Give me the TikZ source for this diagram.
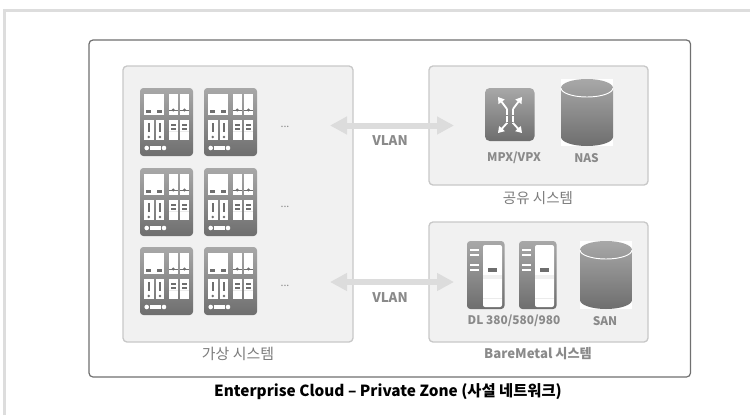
\documentclass[tikz,border=0pt]{standalone}
\usepackage{fontspec}
\setmainfont{Noto Sans CJK KR}
\usetikzlibrary{arrows.meta}
\definecolor{panelfill}{HTML}{F1F1F1}
\definecolor{panelline}{HTML}{C8C8C8}
\definecolor{icontop}{HTML}{A8A8A8}
\definecolor{iconbot}{HTML}{6E6E6E}
\definecolor{labelgray}{HTML}{8A8A8A}
\definecolor{arrowgray}{HTML}{DCDCDC}
\definecolor{framegray}{HTML}{DDDDDD}
\definecolor{zonegray}{HTML}{707070}
\tikzset{
  x=0.75pt,y=-0.75pt,
  panel/.style={draw=panelline,line width=1pt,fill=panelfill,rounded corners=3pt},
  lab/.style={text=labelgray,font=\bfseries\fontsize{8.9pt}{10pt}\selectfont,inner sep=0pt,anchor=center},
  lablight/.style={text=labelgray!90!black,font=\fontsize{10.9pt}{12pt}\selectfont,inner sep=0pt,anchor=center},
  wh/.style={fill=white,draw=none},
  dk/.style={fill=iconbot,draw=none},
  vlanarrow/.style={draw=arrowgray,line width=4.5pt,{Triangle[length=12.75pt,width=12.75pt,fill=arrowgray]}-{Triangle[length=12.75pt,width=12.75pt,fill=arrowgray]}},
  body/.style={top color=icontop,bottom color=iconbot,draw=none,rounded corners=2.5pt},
  xarm/.style={white,line width=1.4pt,-{Triangle[length=4.5pt,width=5.5pt,fill=white]}},
}
\newcommand{\vmicon}[2]{%
\begin{scope}[shift={(#1,#2)}]
  \path[body] (0,0) rectangle (53,68);
  \fill[wh] (4,5.5) rectangle (24,27);
  \fill[dk] (6,22) rectangle (11,25); \fill[dk] (17,22) rectangle (22,25);
  \fill[wh] (29,5.5) rectangle (37.5,27); \fill[wh] (40,5.5) rectangle (49,27);
  \draw[iconbot,line width=.4pt] (29,22) -- (37.5,22) (40,22) -- (49,22);
  \fill[dk] (33.2,22) circle (1.6); \fill[dk] (44.5,22) circle (1.6);
  \fill[wh] (4,32) rectangle (13.5,52); \fill[wh] (16,32) rectangle (24,52);
  \fill[dk] (7.9,35) rectangle (9.6,44); \fill[dk] (19.2,35) rectangle (20.9,44);
  \fill[dk] (8.7,49) circle (1.4); \fill[dk] (20,49) circle (1.4);
  \fill[wh] (29,32) rectangle (37.5,52); \fill[wh] (40,32) rectangle (49,52);
  \fill[dk] (31,35.5) rectangle (35.5,37.5); \fill[dk] (31,39.5) rectangle (35.5,41.5);
  \fill[dk] (42,35.5) rectangle (47,37.5); \fill[dk] (42,39.5) rectangle (47,41.5);
  \fill[black!8] (29,43) rectangle (37.5,44); \fill[black!8] (40,43) rectangle (49,44);
  \fill[wh] (6.7,60) circle (2.3); \fill[wh] (24,60) circle (2.3);
  \fill[wh] (10,58) rectangle (21,62);
\end{scope}}
\newcommand{\cyl}[4]{%
\begin{scope}[shift={(#1,#2)}]
  \fill[white] (0,0) rectangle (#3,#4);
  \path[top color=icontop,bottom color=iconbot] (0,9) arc[x radius=#3/2,y radius=9,start angle=180,end angle=360] -- (#3,#4-9) arc[x radius=#3/2,y radius=9,start angle=0,end angle=180] -- cycle;
  \draw[white,line width=.7pt] (0,9) arc[x radius=#3/2,y radius=9,start angle=180,end angle=0];
\end{scope}}
\newcommand{\dlicon}[2]{%
\begin{scope}[shift={(#1,#2)}]
  \path[body] (0,0) rectangle (37.5,68);
  \fill[wh,rounded corners=1.5pt] (16,4) rectangle (35,66);
  \fill[wh] (3,8) rectangle (12,10.2); \fill[wh] (3,13) rectangle (12,15.2);
  \fill[wh] (3,22.5) rectangle (12,24.8); \fill[wh] (3,28) rectangle (12,30.2);
  \fill[dk] (21,27) rectangle (30,31);
  \fill[black!6] (16,34) rectangle (35,38);
  \fill[black!8] (16,57) rectangle (35,57.6);
\end{scope}}
\begin{document}
\begin{tikzpicture}
\useasboundingbox (0,0) rectangle (750,415);
\fill[white] (0,0) rectangle (750,415);
\draw[draw=framegray,line width=2pt] (4.5,415) -- (4.5,10.5) -- (750,10.5);
\draw[zonegray,line width=.9pt,rounded corners=3pt] (89,40) rectangle (690.5,377);
\draw[panel] (123,66) rectangle (353,342);
\draw[panel] (429,66) rectangle (648,185);
\draw[panel] (429,222) rectangle (648,342);
\foreach \yy in {88,168,247}{\vmicon{140}{\yy}\vmicon{204}{\yy}
  \node[text=labelgray,font=\fontsize{8pt}{9pt}\selectfont] (dots\yy) at (285,\yy+39) {...};}
\coordinate (a1) at (330,125.5); \coordinate (b1) at (454,125.5);
\coordinate (a2) at (330,282); \coordinate (b2) at (454,282);
\draw[vlanarrow] (a1) -- (b1);
\draw[vlanarrow] (a2) -- (b2);
\node[lab,font=\bfseries\fontsize{10pt}{11pt}\selectfont] (v1) at (390,141) {VLAN};
\node[lab,font=\bfseries\fontsize{10pt}{11pt}\selectfont] (v2) at (390,298) {VLAN};
% MPX
\path[body,rounded corners=3.5pt] (485,88) rectangle (534.5,141);
\draw[white,line width=1.5pt,dash pattern=on 2pt off .6pt] (507,109) -- (507,123) (513,109) -- (513,123);
\draw[xarm] (507,109) -- (498,97);
\draw[xarm] (513,109) -- (522,97);
\draw[xarm] (507,123) -- (498,133);
\draw[xarm] (513,123) -- (522,133);
\cyl{561}{79}{52}{67}
\node[lab] (mpx) at (514,158) {MPX/VPX};
\node[lab] (nas) at (586.5,158) {NAS};
\node[lablight] (sys1) at (538,198) {공유 시스템};
\dlicon{467}{241}\dlicon{519}{241}
\cyl{580}{241}{52}{68}
\node[lab] (dl) at (514,321) {DL 380/580/980};
\node[lab] (san) at (605,321) {SAN};
\node[lab,font=\bfseries\fontsize{9.9pt}{11pt}\selectfont] (bm) at (538,354) {BareMetal 시스템};
\node[lablight,font=\fontsize{11.2pt}{12pt}\selectfont] (vs) at (238,354) {가상 시스템};
\node[font=\bfseries\fontsize{11.5pt}{13pt}\selectfont,inner sep=0pt] (cap) at (388,392) {Enterprise Cloud – Private Zone (사설 네트워크)};
\end{tikzpicture}
\end{document}
